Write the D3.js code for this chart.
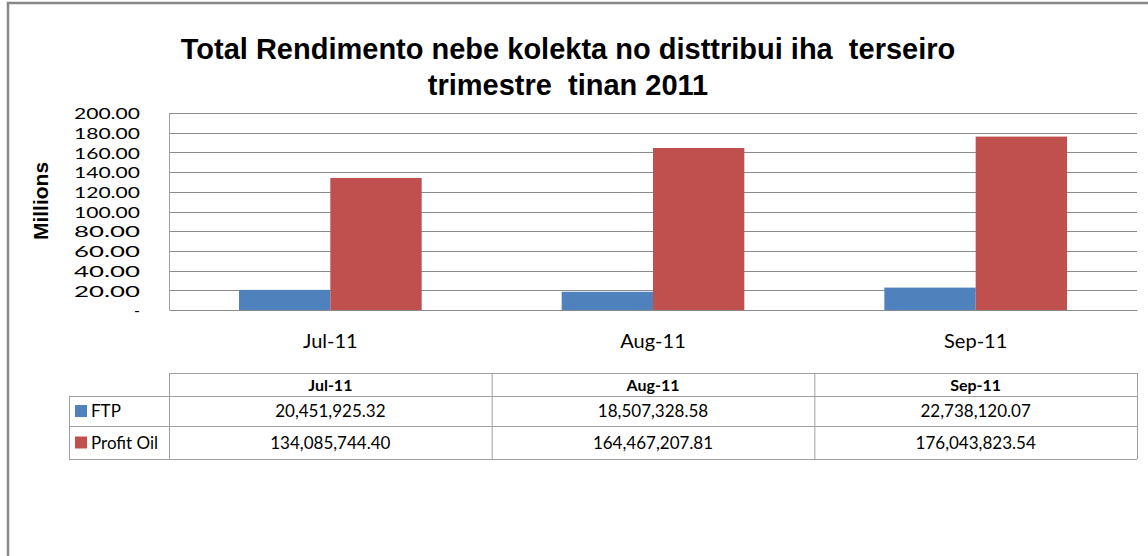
<!DOCTYPE html>
<html>
<head>
<meta charset="utf-8">
<script src="https://cdn.jsdelivr.net/npm/d3@7"></script>
<style>
  body { margin: 0; background: #fff; }
  svg { display: block; }
</style>
</head>
<body>
<div id="chart"></div>
<script>
// chart values
const months = ["Jul-11", "Aug-11", "Sep-11"];
const seriesNames = ["FTP", "Profit Oil"];
const ftp = [20451925.32, 18507328.58, 22738120.07];
const profitOil = [134085744.40, 164467207.81, 176043823.54];
const yTicks = [0, 20, 40, 60, 80, 100, 120, 140, 160, 180, 200];
const titleLines = ["Total Rendimento nebe kolekta no disttribui iha  terseiro", "trimestre  tinan 2011"];

const width = 1148, height = 556;
const colors = ["#4f81bd", "#c0504d"];
const plot = { left: 169, right: 1137, top: 113, bottom: 310 };

const svg = d3.select("#chart")
  .append("svg")
  .attr("width", width)
  .attr("height", height);

// outer chart frame
svg.append("rect")
  .attr("x", 8).attr("y", 3)
  .attr("width", width + 10).attr("height", height + 10)
  .attr("fill", "#fff")
  .attr("stroke", "#888")
  .attr("stroke-width", 2.5);

// title
svg.append("text")
  .attr("text-anchor", "middle")
  .attr("font-family", "Liberation Sans, Arial, sans-serif")
  .attr("font-weight", "bold")
  .attr("font-size", "29px")
  .attr("fill", "#000")
  .style("white-space", "pre")
  .selectAll("tspan")
  .data(titleLines)
  .join("tspan")
  .attr("x", 568)
  .attr("y", (d, i) => 59 + i * 36)
  .text(d => d);

// scales
const y = d3.scaleLinear().domain([0, 200]).range([plot.bottom, plot.top]);
const x0 = d3.scaleBand().domain(months).range([plot.left, plot.right]);
const groupPad = 70;
const x1 = d3.scaleBand().domain(seriesNames)
  .range([groupPad, x0.bandwidth() - groupPad]);

// gridlines
svg.append("g")
  .selectAll("line")
  .data(yTicks.slice(1))
  .join("line")
  .attr("x1", plot.left).attr("x2", plot.right)
  .attr("y1", d => Math.round(y(d)) + 0.5)
  .attr("y2", d => Math.round(y(d)) + 0.5)
  .attr("stroke", "#8c8c8c")
  .attr("stroke-width", 1);

// plot area left border
svg.append("line")
  .attr("x1", plot.left + 0.5).attr("x2", plot.left + 0.5)
  .attr("y1", plot.top).attr("y2", plot.bottom)
  .attr("stroke", "#a0a0a0");

// y axis labels (tightly stacked as in the original)
const yAxis = d3.axisLeft(y)
  .tickValues(yTicks)
  .tickSize(0)
  .tickPadding(29)
  .tickFormat(d => d === 0 ? "-" : d3.format(".2f")(d));

svg.append("g")
  .attr("transform", `translate(${plot.left},0)`)
  .call(yAxis)
  .call(g => g.select(".domain").remove())
  .call(g => g.selectAll("text")
    .attr("font-family", "Lato, sans-serif")
    .attr("font-size", "16px")
    .attr("textLength", d => d === 0 ? null : 66)
    .attr("lengthAdjust", "spacingAndGlyphs")
    .attr("fill", "#000")
    .attr("dy", "0.36em"));

// y axis title
svg.append("text")
  .attr("transform", "translate(48,201) rotate(-90)")
  .attr("text-anchor", "middle")
  .attr("font-family", "Liberation Sans, Arial, sans-serif")
  .attr("font-weight", "bold")
  .attr("font-size", "21px")
  .attr("fill", "#000")
  .text("Millions");

// bars
const rows = months.map((m, i) => ({ month: m, values: [ftp[i], profitOil[i]] }));

svg.append("g")
  .selectAll("g")
  .data(rows)
  .join("g")
  .attr("transform", d => `translate(${x0(d.month)},0)`)
  .selectAll("rect")
  .data(d => d.values.map((v, j) => ({ name: seriesNames[j], value: v / 1e6, j })))
  .join("rect")
  .attr("x", d => x1(d.name))
  .attr("width", x1.bandwidth())
  .attr("y", d => y(d.value))
  .attr("height", d => plot.bottom - y(d.value))
  .attr("fill", d => colors[d.j]);

// x axis
const xAxis = d3.axisBottom(x0).tickSize(0).tickPadding(24);
svg.append("g")
  .attr("transform", `translate(0,${plot.bottom})`)
  .call(xAxis)
  .call(g => g.select(".domain").attr("stroke", "#8c8c8c"))
  .call(g => g.selectAll("text")
    .attr("font-family", "Lato, sans-serif")
    .attr("font-size", "20px")
    .attr("fill", "#000"));

// data table
const tbl = { left: 69, top: 373, rowTops: [373, 396, 426, 459] };
const colEdges = [plot.left].concat(months.map(m => x0(m) + x0.bandwidth()));
const tg = svg.append("g");
const lineColor = "#a0a0a0";

// horizontal lines
tg.selectAll("line.h")
  .data(tbl.rowTops)
  .join("line")
  .attr("class", "h")
  .attr("x1", (d, i) => i === 0 ? plot.left : tbl.left)
  .attr("x2", plot.right)
  .attr("y1", d => d + 0.5).attr("y2", d => d + 0.5)
  .attr("stroke", lineColor);

// vertical lines
tg.selectAll("line.v")
  .data([tbl.left].concat(colEdges))
  .join("line")
  .attr("class", "v")
  .attr("x1", d => d + 0.5).attr("x2", d => d + 0.5)
  .attr("y1", (d, i) => i === 0 ? tbl.rowTops[1] : tbl.rowTops[0])
  .attr("y2", tbl.rowTops[3])
  .attr("stroke", lineColor);

// header
tg.selectAll("text.hdr")
  .data(months)
  .join("text")
  .attr("class", "hdr")
  .attr("x", d => x0(d) + x0.bandwidth() / 2)
  .attr("y", (tbl.rowTops[0] + tbl.rowTops[1]) / 2 + 6)
  .attr("text-anchor", "middle")
  .attr("font-family", "Lato, sans-serif")
  .attr("font-weight", "bold")
  .attr("font-size", "16px")
  .attr("fill", "#000")
  .text(d => d);

// series rows
const fmt = d3.format(",.2f");
const seriesData = [ftp, profitOil];
seriesData.forEach((vals, r) => {
  const cy = (tbl.rowTops[r + 1] + tbl.rowTops[r + 2]) / 2;
  tg.append("rect")
    .attr("x", 75).attr("y", cy - 6)
    .attr("width", 12).attr("height", 12)
    .attr("fill", colors[r]);
  tg.append("text")
    .attr("x", 91).attr("y", cy + 6)
    .attr("font-family", "Lato, sans-serif")
    .attr("font-size", "17px")
    .attr("fill", "#000")
    .text(seriesNames[r]);
  tg.selectAll(null)
    .data(vals)
    .join("text")
    .attr("x", (d, i) => x0(months[i]) + x0.bandwidth() / 2)
    .attr("y", cy + 6)
    .attr("text-anchor", "middle")
    .attr("font-family", "Lato, sans-serif")
    .attr("font-size", "17px")
    .attr("fill", "#000")
    .text(d => fmt(d));
});
</script>
</body>
</html>
